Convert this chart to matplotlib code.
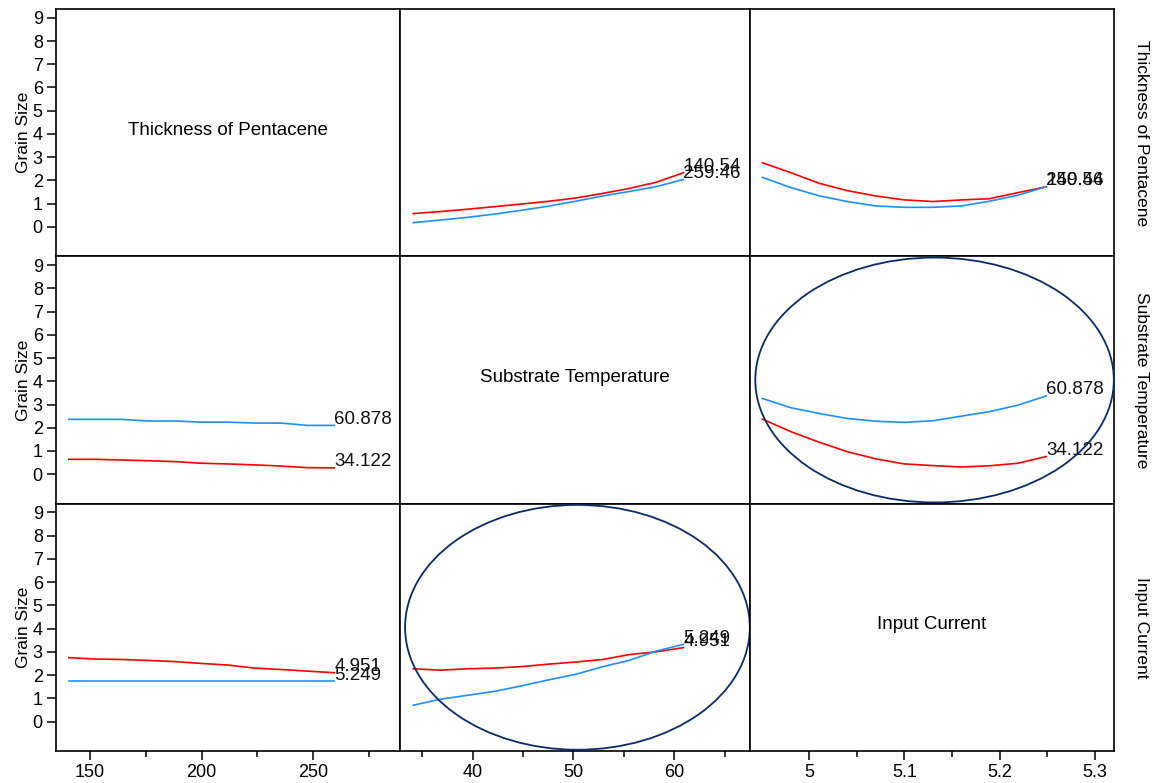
import matplotlib
matplotlib.use("Agg")
import matplotlib.pyplot as plt
from matplotlib.patches import Ellipse

plt.rcParams['font.family'] = ['Liberation Sans', 'DejaVu Sans']

# ---------------- data ----------------
factor_names = ["Thickness of Pentacene", "Substrate Temperature", "Input Current"]
y_label = "Grain Size"

thickness_x = [140.5, 152.4, 164.3, 176.2, 188.1, 200.0, 211.9, 223.8, 235.7, 247.6, 259.5]
substrate_x = [34.1, 36.8, 39.5, 42.2, 44.8, 47.5, 50.2, 52.9, 55.5, 58.2, 60.9]
current_x = [4.951, 4.981, 5.011, 5.040, 5.070, 5.100, 5.130, 5.160, 5.189, 5.219, 5.249]

# row 0: thickness held at 140.54 (red) / 259.46 (blue)
thick_labels = ["140.54", "259.46"]
r0c1_red = [0.57, 0.66, 0.76, 0.87, 0.98, 1.10, 1.24, 1.44, 1.65, 1.92, 2.33]
r0c1_blue = [0.18, 0.29, 0.41, 0.55, 0.71, 0.89, 1.10, 1.33, 1.52, 1.73, 2.04]
r0c2_red = [2.76, 2.33, 1.87, 1.56, 1.33, 1.16, 1.09, 1.16, 1.21, 1.47, 1.73]
r0c2_blue = [2.13, 1.69, 1.33, 1.09, 0.90, 0.84, 0.84, 0.90, 1.10, 1.36, 1.73]

# row 1: substrate temperature held at 34.122 (red) / 60.878 (blue)
sub_labels = ["34.122", "60.878"]
r1c0_red = [0.64, 0.64, 0.61, 0.58, 0.54, 0.47, 0.44, 0.40, 0.35, 0.28, 0.27]
r1c0_blue = [2.36, 2.36, 2.36, 2.29, 2.29, 2.24, 2.24, 2.20, 2.20, 2.10, 2.10]
r1c2_red = [2.37, 1.83, 1.37, 0.97, 0.66, 0.44, 0.37, 0.31, 0.36, 0.47, 0.76]
r1c2_blue = [3.26, 2.86, 2.61, 2.40, 2.28, 2.23, 2.30, 2.50, 2.69, 2.97, 3.37]

# row 2: input current held at 4.951 (red) / 5.249 (blue)
cur_labels = ["4.951", "5.249"]
r2c0_red = [2.75, 2.69, 2.67, 2.63, 2.58, 2.50, 2.43, 2.30, 2.24, 2.17, 2.10]
r2c0_blue = [1.73, 1.73, 1.73, 1.73, 1.73, 1.73, 1.73, 1.73, 1.73, 1.73, 1.73]
r2c1_red = [2.27, 2.21, 2.27, 2.30, 2.36, 2.47, 2.56, 2.67, 2.88, 3.00, 3.18]
r2c1_blue = [0.70, 0.96, 1.13, 1.30, 1.53, 1.79, 2.03, 2.36, 2.63, 3.03, 3.32]

y_ticks = [0, 1, 2, 3, 4, 5, 6, 7, 8, 9]
x_ticks = [[150, 200, 250], [40, 50, 60], [5.0, 5.1, 5.2, 5.3]]
x_tick_labels = [["150", "200", "250"], ["40", "50", "60"], ["5", "5.1", "5.2", "5.3"]]
x_minor = [[175, 225, 275], [35, 45, 55, 65], [5.05, 5.15, 5.25]]
x_limits = [(134.75, 289.0), (32.79, 67.51), (4.938, 5.320)]
y_limits = (-1.27, 9.38)

panels = {
    (0, 1): (substrate_x, r0c1_red, r0c1_blue, thick_labels),
    (0, 2): (current_x, r0c2_red, r0c2_blue, thick_labels),
    (1, 0): (thickness_x, r1c0_red, r1c0_blue, sub_labels),
    (1, 2): (current_x, r1c2_red, r1c2_blue, sub_labels),
    (2, 0): (thickness_x, r2c0_red, r2c0_blue, cur_labels),
    (2, 1): (substrate_x, r2c1_red, r2c1_blue, cur_labels),
}
circled = [(1, 2), (2, 1)]

RED = "#ff0000"
BLUE = "#1e8fff"
NAVY = "#0d2b66"

# ---------------- figure ----------------
W, H = 1154, 783
fig = plt.figure(figsize=(W / 100, H / 100), dpi=100)
gs = fig.add_gridspec(3, 3, left=56 / W, right=1114 / W, top=1 - 9 / H, bottom=1 - 751 / H,
                      wspace=0, hspace=0, width_ratios=[344, 350, 364])

for r in range(3):
    for c in range(3):
        ax = fig.add_subplot(gs[r, c])
        ax.set_xlim(*x_limits[c])
        ax.set_ylim(*y_limits)
        for s in ax.spines.values():
            s.set_linewidth(1.2)
        ax.tick_params(which='major', direction='out', length=6.5, width=1.1,
                       labelsize=13, pad=3)
        ax.tick_params(which='minor', direction='out', length=4.5, width=1.1)
        ax.set_xticks(x_ticks[c])
        ax.set_xticks(x_minor[c], minor=True)
        ax.set_yticks(y_ticks)
        if r == 2:
            ax.set_xticklabels(x_tick_labels[c])
        else:
            ax.tick_params(axis='x', which='both', bottom=False, labelbottom=False)
        if c == 0:
            ax.set_ylabel(y_label, fontsize=12.5, labelpad=1)
        else:
            ax.tick_params(axis='y', which='both', left=False, labelleft=False)
        if c == 2:
            ax.text(1.075, 0.5, factor_names[r], transform=ax.transAxes, rotation=-90,
                    ha='center', va='center', fontsize=12.5)
        if r == c:
            ax.text(0.5, 0.51, factor_names[r], transform=ax.transAxes,
                    ha='center', va='center', fontsize=13.5)
            continue
        xs, red, blue, labs = panels[(r, c)]
        ax.plot(xs, red, color=RED, lw=1.2)
        ax.plot(xs, blue, color=BLUE, lw=1.2)
        ax.annotate(labs[0], (xs[-1], red[-1]), xytext=(0, 4.3), textcoords='offset points',
                    ha='left', va='center', fontsize=13.5, color='#111111')
        ax.annotate(labs[1], (xs[-1], blue[-1]), xytext=(0, 4.3), textcoords='offset points',
                    ha='left', va='center', fontsize=13.5, color='#111111')
        if (r, c) in circled:
            ax.add_patch(Ellipse((0.507, 0.5), 0.985, 0.99, transform=ax.transAxes,
                                 fill=False, edgecolor=NAVY, lw=1.3, clip_on=False, zorder=5))

fig.savefig("out.png", dpi=100)
